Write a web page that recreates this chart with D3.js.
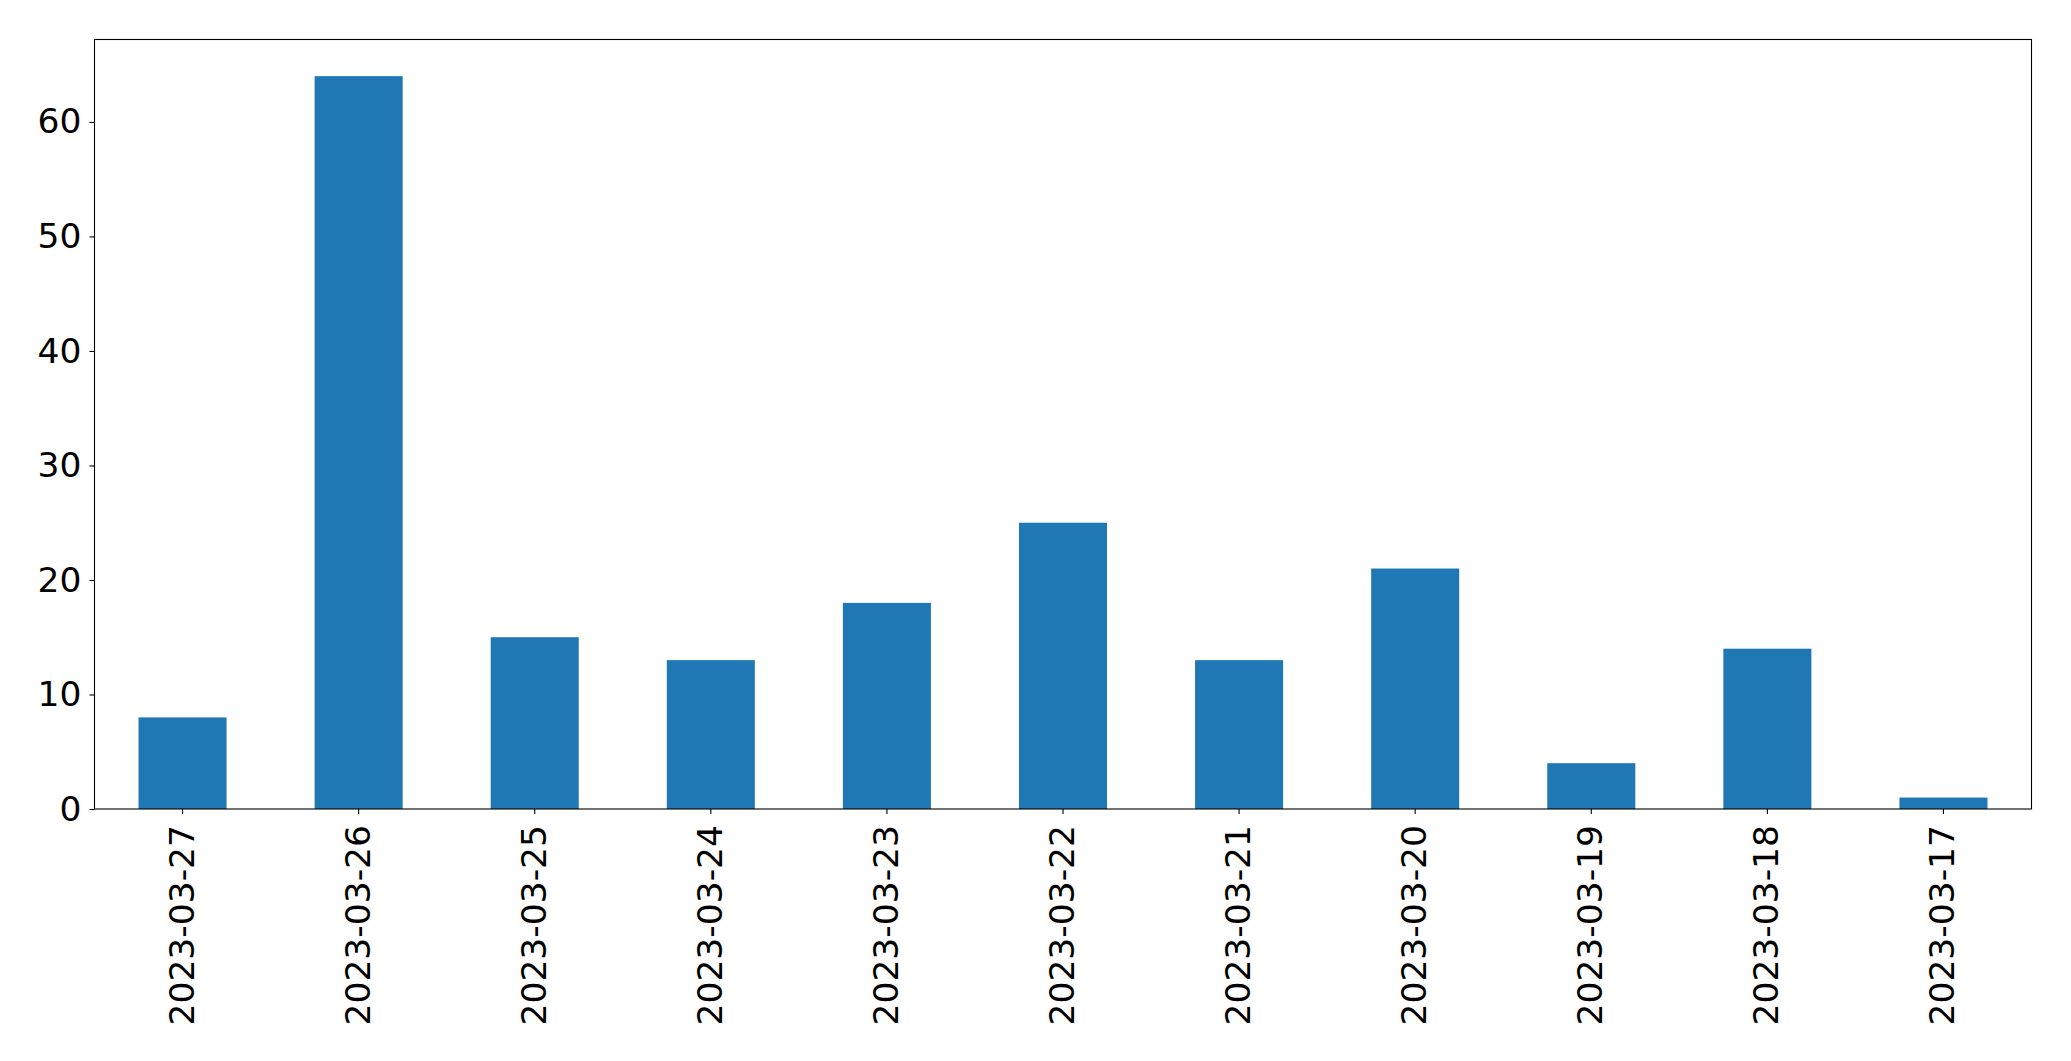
<!DOCTYPE html>
<html>
<head>
<meta charset="utf-8">
<script src="https://cdn.jsdelivr.net/npm/d3@7"></script>
<style>
  html, body { margin: 0; padding: 0; background: #fff; }
  svg { display: block; }
  text { font-family: "DejaVu Sans", sans-serif; }
</style>
</head>
<body>
<svg id="chart" width="2071" height="1061"></svg>
<script>
const categories = ["2023-03-27","2023-03-26","2023-03-25","2023-03-24","2023-03-23","2023-03-22","2023-03-21","2023-03-20","2023-03-19","2023-03-18","2023-03-17"];
const values = [8, 64, 15, 13, 18, 25, 13, 21, 4, 14, 1];
const yTicks = [0, 10, 20, 30, 40, 50, 60];

const W = 2071, H = 1061;
const margin = { left: 94.5, top: 39.5, right: W - 2031.5, bottom: H - 809 };
const svg = d3.select("#chart");
const g = svg.append("g").attr("transform", `translate(${margin.left},${margin.top})`);
const iw = W - margin.left - margin.right;
const ih = H - margin.top - margin.bottom;

const x = d3.scaleBand().domain(categories).range([0, iw]).paddingInner(0.5).paddingOuter(0.25);
const y = d3.scaleLinear().domain([0, d3.max(values) * 1.05]).range([ih, 0]);

g.selectAll("rect.bar").data(values).join("rect")
  .attr("class", "bar")
  .attr("x", (d, i) => x(categories[i]))
  .attr("width", x.bandwidth())
  .attr("y", d => y(d))
  .attr("height", d => ih - y(d))
  .attr("fill", "#1f77b4");

const fs = 34.5;
const yAxis = g.append("g").call(d3.axisLeft(y).tickValues(yTicks).tickSize(5).tickPadding(8).tickFormat(d3.format("d")));
yAxis.select(".domain").remove();
yAxis.selectAll("text").attr("font-size", fs).attr("fill", "#000").attr("font-family", "DejaVu Sans");
yAxis.selectAll("line").attr("stroke", "#000").attr("stroke-width", 1.1);

const xAxis = g.append("g").attr("transform", `translate(0,${ih})`).call(d3.axisBottom(x).tickSize(5).tickPadding(0));
xAxis.select(".domain").remove();
xAxis.selectAll("line").attr("stroke", "#000").attr("stroke-width", 1.1);
xAxis.selectAll("text")
  .attr("font-size", fs).attr("fill", "#000").attr("font-family", "DejaVu Sans")
  .attr("text-anchor", "end")
  .attr("dy", null)
  .attr("transform", "translate(-1,16) rotate(-90)")
  .attr("x", 0).attr("y", 0)
  .attr("dominant-baseline", "central");

g.append("rect").attr("x", 0).attr("y", 0).attr("width", iw).attr("height", ih)
  .attr("fill", "none").attr("stroke", "#000").attr("stroke-width", 1.1);
</script>
</body>
</html>
